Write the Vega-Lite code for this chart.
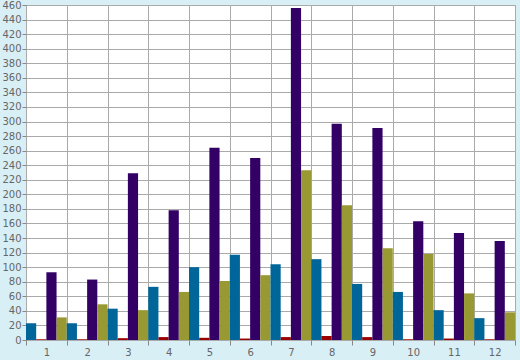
{
  "$schema": "https://vega.github.io/schema/vega-lite/v6.json",
  "autosize": {"type": "none"},
  "width": 489,
  "height": 335,
  "padding": {"left": 26, "top": 5, "right": 5, "bottom": 20},
  "background": "#d9eff6",
  "config": {
    "view": {"fill": "#ffffff", "stroke": "#aaaaaa"},
    "axis": {"labelFont": "DejaVu Sans", "labelFontSize": 10, "labelColor": "#666666", "gridColor": "#aaaaaa", "gridOpacity": 1, "tickColor": "#888888", "domain": false, "title": null}
  },
  "data": {
    "values": [
      {"g": "1", "s": "a", "v": 23}, {"g": "1", "s": "b", "v": 1}, {"g": "1", "s": "c", "v": 93}, {"g": "1", "s": "d", "v": 31},
      {"g": "2", "s": "a", "v": 23}, {"g": "2", "s": "b", "v": 1}, {"g": "2", "s": "c", "v": 83}, {"g": "2", "s": "d", "v": 49},
      {"g": "3", "s": "a", "v": 43}, {"g": "3", "s": "b", "v": 2.5}, {"g": "3", "s": "c", "v": 229}, {"g": "3", "s": "d", "v": 41},
      {"g": "4", "s": "a", "v": 73}, {"g": "4", "s": "b", "v": 4}, {"g": "4", "s": "c", "v": 178}, {"g": "4", "s": "d", "v": 66},
      {"g": "5", "s": "a", "v": 100}, {"g": "5", "s": "b", "v": 3}, {"g": "5", "s": "c", "v": 264}, {"g": "5", "s": "d", "v": 81},
      {"g": "6", "s": "a", "v": 117}, {"g": "6", "s": "b", "v": 2}, {"g": "6", "s": "c", "v": 250}, {"g": "6", "s": "d", "v": 89},
      {"g": "7", "s": "a", "v": 104}, {"g": "7", "s": "b", "v": 4}, {"g": "7", "s": "c", "v": 456}, {"g": "7", "s": "d", "v": 233},
      {"g": "8", "s": "a", "v": 111}, {"g": "8", "s": "b", "v": 5.5}, {"g": "8", "s": "c", "v": 297}, {"g": "8", "s": "d", "v": 185},
      {"g": "9", "s": "a", "v": 77}, {"g": "9", "s": "b", "v": 4}, {"g": "9", "s": "c", "v": 291}, {"g": "9", "s": "d", "v": 126},
      {"g": "10", "s": "a", "v": 66}, {"g": "10", "s": "b", "v": 1}, {"g": "10", "s": "c", "v": 163}, {"g": "10", "s": "d", "v": 118},
      {"g": "11", "s": "a", "v": 41}, {"g": "11", "s": "b", "v": 2}, {"g": "11", "s": "c", "v": 147}, {"g": "11", "s": "d", "v": 64},
      {"g": "12", "s": "a", "v": 30}, {"g": "12", "s": "b", "v": 1}, {"g": "12", "s": "c", "v": 136}, {"g": "12", "s": "d", "v": 38}
    ]
  },
  "mark": {"type": "bar"},
  "encoding": {
    "x": {
      "field": "g", "type": "ordinal", "sort": null,
      "scale": {"paddingInner": 0, "paddingOuter": 0},
      "axis": {"labelAngle": 0, "tickBand": "extent", "grid": true, "tickSize": 5, "labelPadding": 2}
    },
    "xOffset": {"field": "s", "type": "nominal", "scale": {"paddingInner": 0, "paddingOuter": 0}},
    "y": {
      "field": "v", "type": "quantitative",
      "scale": {"domain": [0, 460], "nice": false},
      "axis": {"values": [0,20,40,60,80,100,120,140,160,180,200,220,240,260,280,300,320,340,360,380,400,420,440,460], "grid": true, "tickSize": 4, "labelPadding": 1}
    },
    "color": {
      "field": "s", "type": "nominal",
      "scale": {"domain": ["a", "b", "c", "d"], "range": ["#006699", "#990000", "#330066", "#999933"]},
      "legend": null
    }
  }
}
